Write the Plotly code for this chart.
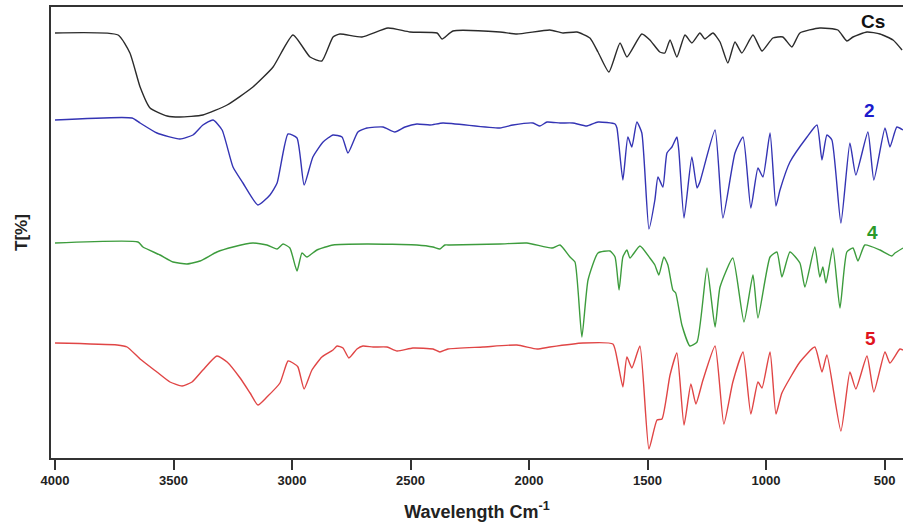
import plotly.graph_objects as go

# ---- data (wavenumber cm^-1, transmittance a.u. with vertical offsets) ----
cs_wn = [4000, 3734, 3684, 3641, 3599, 3527, 3473, 3376, 3274, 3165, 3080, 2996, 2924, 2874, 2827, 2798,
         2705, 2595, 2502, 2388, 2367, 2321, 2123, 2051, 1912, 1857, 1798, 1743, 1709, 1663, 1616, 1587,
         1524, 1490, 1448, 1427, 1405, 1376, 1342, 1313, 1279, 1258, 1224, 1194, 1161, 1131, 1102, 1055,
         1017, 971, 929, 891, 857, 773, 697, 659, 633, 574, 519, 464, 426]
cs_t = [425, 423, 405, 371, 350, 342, 341, 343, 353, 371, 391, 423, 401, 397, 421, 424,
        421, 430, 426, 425, 419, 427, 426, 424, 428, 425, 426, 420, 406, 386, 415, 401,
        424, 418, 406, 405, 418, 401, 423, 415, 425, 419, 425, 416, 395, 416, 405, 423,
        407, 420, 421, 411, 425, 430, 428, 417, 421, 426, 424, 418, 408]

s2_wn = [4000, 3675, 3641, 3570, 3473, 3418, 3376, 3333, 3295, 3249, 3207, 3144, 3093, 3063, 3017, 2979,
         2949, 2912, 2869, 2827, 2789, 2764, 2722, 2684, 2616, 2566, 2523, 2473, 2418, 2363, 2123, 2068,
         1983, 1954, 1924, 1869, 1815, 1756, 1709, 1637, 1629, 1604, 1583, 1566, 1545, 1524, 1494, 1469,
         1456, 1435, 1418, 1397, 1376, 1368, 1346, 1313, 1291, 1279, 1215, 1182, 1131, 1097, 1064, 1034,
         1013, 983, 958, 941, 899, 827, 785, 764, 743, 722, 684, 646, 621, 570, 545, 498, 477, 448, 422]
s2_t = [338, 340, 335, 325, 319, 323, 333, 338, 328, 291, 275, 253, 263, 275, 324, 320,
        273, 301, 316, 323, 321, 305, 326, 330, 331, 326, 331, 334, 333, 335, 330, 333,
        335, 332, 336, 335, 335, 332, 336, 334, 330, 278, 321, 311, 336, 325, 229, 258,
        281, 271, 305, 311, 321, 308, 240, 301, 270, 276, 328, 240, 305, 321, 250, 290,
        281, 325, 252, 268, 296, 321, 333, 298, 323, 318, 235, 315, 283, 326, 278, 330, 311, 331, 328]

s4_wn = [4000, 3650, 3629, 3557, 3502, 3443, 3388, 3317, 3249, 3165, 3106, 3063, 3038, 3009, 2979, 2958,
         2937, 2895, 2827, 2684, 2473, 2405, 2376, 2355, 2334, 2123, 2009, 1903, 1869, 1827, 1806, 1777,
         1751, 1709, 1658, 1637, 1620, 1604, 1587, 1574, 1532, 1490, 1469, 1452, 1431, 1414, 1393, 1381,
         1355, 1321, 1291, 1249, 1215, 1194, 1140, 1093, 1055, 1034, 983, 954, 933, 899, 857, 836,
         794, 773, 760, 747, 718, 688, 659, 633, 612, 583, 519, 469, 456, 422]
s4_t = [215, 216, 211, 203, 196, 194, 197, 206, 211, 215, 213, 209, 214, 210, 187, 205,
        201, 208, 213, 214, 213, 211, 209, 213, 213, 214, 215, 210, 213, 201, 196, 121,
        178, 205, 207, 201, 168, 201, 208, 200, 212, 200, 193, 183, 201, 193, 168, 165,
        133, 112, 116, 190, 131, 171, 200, 136, 183, 140, 201, 206, 181, 206, 195, 171,
        211, 181, 191, 175, 210, 150, 206, 210, 197, 213, 208, 202, 205, 210]

s5_wn = [4000, 3738, 3696, 3641, 3570, 3515, 3464, 3422, 3376, 3317, 3274, 3219, 3177, 3144, 3106, 3051,
         3017, 2996, 2975, 2949, 2916, 2874, 2827, 2810, 2785, 2760, 2726, 2701, 2658, 2599, 2557, 2490,
         2405, 2376, 2342, 2194, 2051, 1966, 1912, 1772, 1646, 1625, 1604, 1587, 1566, 1532, 1494, 1460,
         1439, 1405, 1376, 1346, 1317, 1296, 1266, 1215, 1178, 1140, 1097, 1064, 1034, 1017, 983, 958,
         933, 857, 794, 764, 743, 684, 646, 621, 574, 545, 498, 477, 435, 422]
s5_t = [115, 113, 111, 99, 86, 76, 72, 76, 88, 102, 96, 80, 65, 53, 61, 75,
        97, 95, 91, 69, 88, 101, 108, 112, 110, 100, 109, 112, 111, 111, 107, 110,
        109, 106, 109, 111, 113, 109, 111, 115, 114, 95, 71, 101, 90, 112, 9, 38,
        39, 83, 105, 33, 74, 54, 78, 112, 34, 76, 106, 44, 76, 70, 106, 44,
        65, 96, 111, 86, 103, 27, 86, 69, 102, 66, 106, 95, 109, 108]

series_names = ["Cs", "2", "4", "5"]
line_colors = ["#2b2b2b", "#3434b4", "#3d9c3d", "#e04545"]
label_colors = ["#111111", "#1c1ccc", "#2a9a2a", "#e0141e"]
label_wn = [549, 565, 549, 561]
label_t = [437, 348, 226, 120]

tick_vals = [4000, 3500, 3000, 2500, 2000, 1500, 1000, 500]

FONT = "Liberation Sans, Arial, sans-serif"

fig = go.Figure()
for name, wn, t, col in zip(series_names, [cs_wn, s2_wn, s4_wn, s5_wn],
                            [cs_t, s2_t, s4_t, s5_t], line_colors):
    fig.add_trace(go.Scatter(x=wn, y=t, mode="lines", name=name,
                             line=dict(color=col, width=1.4, shape="spline", smoothing=0.5),
                             showlegend=False))

for name, x, y, c in zip(series_names, label_wn, label_t, label_colors):
    fig.add_annotation(x=x, y=y, text=name, showarrow=False,
                       font=dict(family=FONT, size=19, color=c, weight="bold"))

fig.update_layout(
    width=903, height=525,
    margin=dict(l=51, r=0, t=7, b=67, autoexpand=False),
    paper_bgcolor="white", plot_bgcolor="white",
    font=dict(family=FONT, color="#222222"),
)
fig.update_xaxes(
    range=[4017, 422], showgrid=False, zeroline=False, automargin=False,
    showline=True, linecolor="#333333", linewidth=1.6, mirror=True,
    ticks="outside", ticklen=10, tickwidth=1.6, tickcolor="#333333",
    tickvals=tick_vals, ticktext=[str(v) for v in tick_vals],
    tickfont=dict(family=FONT, size=13, color="#222222", weight="bold"),
    title=dict(text="Wavelength Cm<sup>-1</sup>", standoff=18,
               font=dict(family=FONT, size=18, color="#222222", weight="bold")),
)
fig.update_yaxes(
    range=[0, 451], showgrid=False, zeroline=False, automargin=False,
    showline=True, linecolor="#333333", linewidth=1.6, mirror=False,
    showticklabels=False, ticks="",
    title=dict(text="T[%]", standoff=17,
               font=dict(family=FONT, size=17, color="#222222", weight="bold")),
)

fig.write_html("out.html", config={"displayModeBar": False},
               post_script="document.body.style.margin='0';document.body.style.overflow='hidden';")
